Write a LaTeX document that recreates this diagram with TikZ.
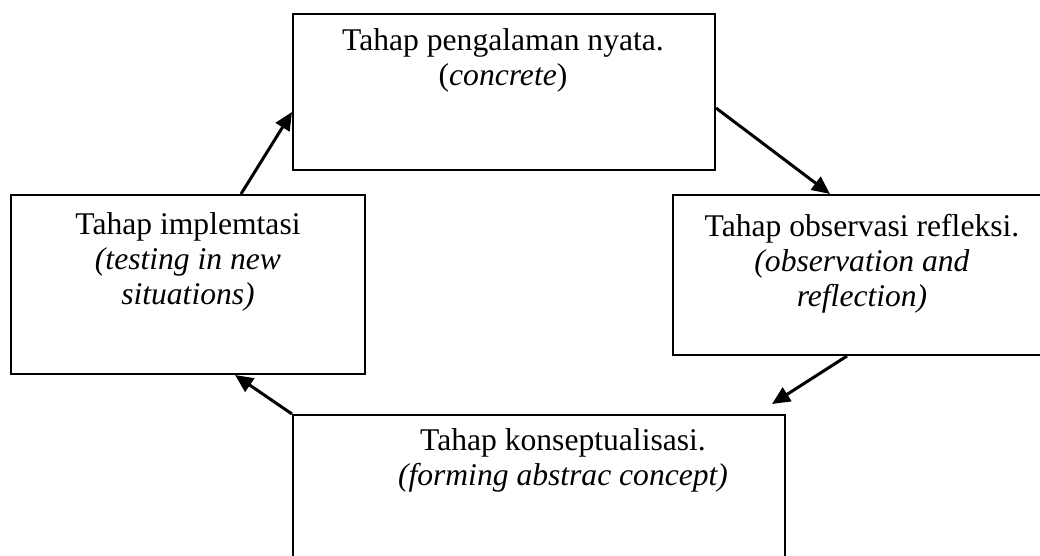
\documentclass[tikz,border=0pt]{standalone}
\usepackage{fontspec}
\setmainfont{Liberation Serif}
\usetikzlibrary{arrows.meta}
\begin{document}
\begin{tikzpicture}[x=1pt,y=-1pt,
  box/.style={draw, line width=2pt, inner sep=0pt},
  txt/.style={align=center, font=\fontsize{31.6}{35}\selectfont, inner sep=0pt, anchor=base},
  arr/.style={line width=3pt, -{Triangle[length=18pt,width=16pt]}}]
\useasboundingbox (0,0) rectangle (1040,556);
\clip (0,0) rectangle (1040,556);
% boxes
\node[box, minimum width=422pt, minimum height=156pt] (tb) at (504,92) {};
\node[box, minimum width=354pt, minimum height=179pt] (lb) at (188,284.5) {};
\node[box, minimum width=378pt, minimum height=160pt] (rb) at (862,275) {};
\node[box, minimum width=492pt, minimum height=170pt] (bb) at (539,500) {};
% texts (anchor = baseline of last line)
\node[txt] (tbt) at (503,86) {Tahap pengalaman nyata.\\(\textit{concrete})};
\node[txt] (lbt) at (188,304) {Tahap implemtasi\\\textit{(testing in new}\\\textit{situations)}};
\node[txt] (rbt) at (862,306) {Tahap observasi refleksi.\\\textit{(observation and}\\\textit{reflection)}};
\node[txt] (bbt) at (563,485) {Tahap konseptualisasi.\\\textit{(forming abstrac concept)}};
% connectors
\draw[arr] ([xshift=53pt]lb.north) -- ([yshift=-20pt]tb.west);
\draw[arr] ([yshift=-16pt]tb.east) -- ([xshift=-32pt]rb.north);
\coordinate (bbin) at ([xshift=233pt,yshift=10pt]bb.north);
\draw[arr] ([xshift=-15pt]rb.south) -- (bbin);
\draw[arr] (bb.north west) -- ([xshift=47pt]lb.south);
\end{tikzpicture}
\end{document}
